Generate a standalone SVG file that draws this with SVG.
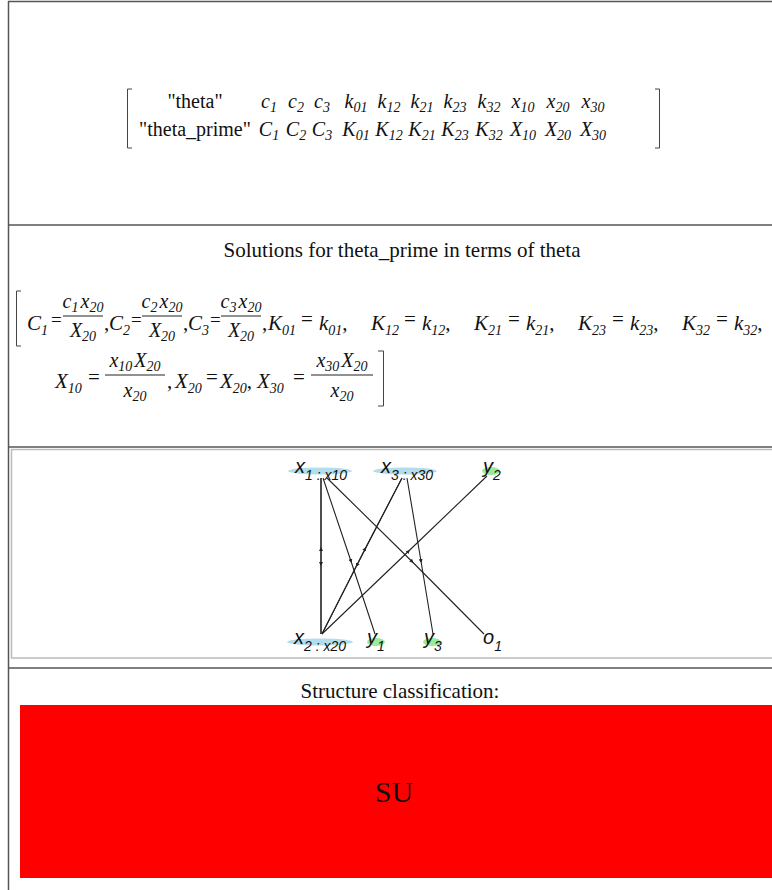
<svg xmlns="http://www.w3.org/2000/svg" width="772" height="890" viewBox="0 0 772 890">
<style>
.m{font-family:"Liberation Serif",serif;font-size:20px;fill:#111}
.i{font-style:italic}
.s{font-size:14px}
.e{font-family:"Liberation Serif",serif;font-size:21px;font-style:italic;fill:#111}
.f{font-size:20px}
.es{font-size:14px}
.u{font-style:normal}
.eq{font-size:19px}
.t{font-family:"Liberation Serif",serif;font-size:21px;fill:#111}
.g{font-family:"Liberation Sans",sans-serif;font-style:italic;font-size:20px;fill:#111}
.gs{font-size:14px}
.br{fill:none;stroke:#444;stroke-width:1}
.bar{stroke:#222;stroke-width:1}
.edge{fill:none;stroke:#222;stroke-width:1.1;marker-mid:url(#ah)}
.hb{fill:#a9d9ea;opacity:0.9}
.hg{fill:#8fe88f;opacity:0.9}
.frame{fill:none;stroke:#555;stroke-width:1.5}
</style>
<defs>
<marker id="ah" markerUnits="userSpaceOnUse" markerWidth="5" markerHeight="5" refX="4" refY="2" orient="auto">
<path d="M0,0 L4,2 L0,4 z" fill="#222"/>
</marker>
</defs>
<rect width="772" height="890" fill="#fff"/>
<g id="frame">
<line class="frame" x1="8.5" y1="1" x2="8.5" y2="890"/>
<line class="frame" x1="8" y1="1.5" x2="772" y2="1.5"/>
<line class="frame" x1="8" y1="225" x2="772" y2="225"/>
<line class="frame" x1="8" y1="447" x2="772" y2="447"/>
<line class="frame" x1="8" y1="668" x2="772" y2="668"/>
<rect x="11.5" y="449.5" width="770" height="208.5" fill="none" stroke="#bbb" stroke-width="1.5"/>
</g>
<g id="matrix">
<path class="br" d="M132,89 H127.5 V148 H132"/>
<path class="br" d="M655,89 H659.5 V148 H655"/>
<text class="m" x="195" y="108" text-anchor="middle">"theta"</text>
<text class="m" x="195" y="136" text-anchor="middle">"theta_prime"</text>
<text class="m i" x="269" y="108" text-anchor="middle">c<tspan class="s" dy="4">1</tspan></text>
<text class="m i" x="296" y="108" text-anchor="middle">c<tspan class="s" dy="4">2</tspan></text>
<text class="m i" x="322" y="108" text-anchor="middle">c<tspan class="s" dy="4">3</tspan></text>
<text class="m i" x="356" y="108" text-anchor="middle">k<tspan class="s" dy="4">01</tspan></text>
<text class="m i" x="389" y="108" text-anchor="middle">k<tspan class="s" dy="4">12</tspan></text>
<text class="m i" x="422" y="108" text-anchor="middle">k<tspan class="s" dy="4">21</tspan></text>
<text class="m i" x="455" y="108" text-anchor="middle">k<tspan class="s" dy="4">23</tspan></text>
<text class="m i" x="489" y="108" text-anchor="middle">k<tspan class="s" dy="4">32</tspan></text>
<text class="m i" x="523" y="108" text-anchor="middle">x<tspan class="s" dy="4">10</tspan></text>
<text class="m i" x="558" y="108" text-anchor="middle">x<tspan class="s" dy="4">20</tspan></text>
<text class="m i" x="593" y="108" text-anchor="middle">x<tspan class="s" dy="4">30</tspan></text>
<text class="m i" x="269" y="136" text-anchor="middle">C<tspan class="s" dy="4">1</tspan></text>
<text class="m i" x="296" y="136" text-anchor="middle">C<tspan class="s" dy="4">2</tspan></text>
<text class="m i" x="322" y="136" text-anchor="middle">C<tspan class="s" dy="4">3</tspan></text>
<text class="m i" x="356" y="136" text-anchor="middle">K<tspan class="s" dy="4">01</tspan></text>
<text class="m i" x="389" y="136" text-anchor="middle">K<tspan class="s" dy="4">12</tspan></text>
<text class="m i" x="422" y="136" text-anchor="middle">K<tspan class="s" dy="4">21</tspan></text>
<text class="m i" x="455" y="136" text-anchor="middle">K<tspan class="s" dy="4">23</tspan></text>
<text class="m i" x="489" y="136" text-anchor="middle">K<tspan class="s" dy="4">32</tspan></text>
<text class="m i" x="523" y="136" text-anchor="middle">X<tspan class="s" dy="4">10</tspan></text>
<text class="m i" x="558" y="136" text-anchor="middle">X<tspan class="s" dy="4">20</tspan></text>
<text class="m i" x="593" y="136" text-anchor="middle">X<tspan class="s" dy="4">30</tspan></text>
</g>
<g id="solutions">
<text class="t" x="402" y="257" text-anchor="middle">Solutions for theta_prime in terms of theta</text>
<path class="br" d="M21,291 H16.5 V346 H21"/>
<path class="br" d="M378,351 H383.5 V406 H378"/>
<!-- line 1 -->
<text class="e" x="27" y="330">C<tspan class="es" dy="5">1</tspan></text>
<text class="e u eq" x="51" y="326">=</text>
<line class="bar" x1="63" y1="316" x2="103" y2="316"/>
<text class="e f" x="83" y="308" text-anchor="middle">c<tspan class="es" dy="4">1</tspan><tspan dx="2" dy="-4">x</tspan><tspan class="es" dy="4">20</tspan></text>
<text class="e f" x="83" y="337" text-anchor="middle">X<tspan class="es" dy="4">20</tspan></text>
<text class="e u" x="104" y="330">,</text>
<text class="e" x="109" y="330">C<tspan class="es" dy="5">2</tspan></text>
<text class="e u eq" x="131" y="326">=</text>
<line class="bar" x1="142" y1="316" x2="182" y2="316"/>
<text class="e f" x="162" y="308" text-anchor="middle">c<tspan class="es" dy="4">2</tspan><tspan dx="2" dy="-4">x</tspan><tspan class="es" dy="4">20</tspan></text>
<text class="e f" x="162" y="337" text-anchor="middle">X<tspan class="es" dy="4">20</tspan></text>
<text class="e u" x="183" y="330">,</text>
<text class="e" x="188" y="330">C<tspan class="es" dy="5">3</tspan></text>
<text class="e u eq" x="210" y="326">=</text>
<line class="bar" x1="221" y1="316" x2="261" y2="316"/>
<text class="e f" x="241" y="308" text-anchor="middle">c<tspan class="es" dy="4">3</tspan><tspan dx="2" dy="-4">x</tspan><tspan class="es" dy="4">20</tspan></text>
<text class="e f" x="241" y="337" text-anchor="middle">X<tspan class="es" dy="4">20</tspan></text>
<text class="e u" x="262" y="330">,</text>
<text class="e" x="268" y="330">K<tspan class="es" dy="5">01</tspan></text>
<text class="e u" x="301" y="326">=</text>
<text class="e" x="319" y="330">k<tspan class="es" dy="5">01</tspan><tspan class="u" dy="-5">,</tspan></text>
<text class="e" x="371" y="330">K<tspan class="es" dy="5">12</tspan></text>
<text class="e u" x="404" y="326">=</text>
<text class="e" x="422" y="330">k<tspan class="es" dy="5">12</tspan><tspan class="u" dy="-5">,</tspan></text>
<text class="e" x="474" y="330">K<tspan class="es" dy="5">21</tspan></text>
<text class="e u" x="508" y="326">=</text>
<text class="e" x="526" y="330">k<tspan class="es" dy="5">21</tspan><tspan class="u" dy="-5">,</tspan></text>
<text class="e" x="578" y="330">K<tspan class="es" dy="5">23</tspan></text>
<text class="e u" x="612" y="326">=</text>
<text class="e" x="630" y="330">k<tspan class="es" dy="5">23</tspan><tspan class="u" dy="-5">,</tspan></text>
<text class="e" x="682" y="330">K<tspan class="es" dy="5">32</tspan></text>
<text class="e u" x="716" y="326">=</text>
<text class="e" x="734" y="330">k<tspan class="es" dy="5">32</tspan><tspan class="u" dy="-5">,</tspan></text>
<!-- line 2 -->
<text class="e" x="55" y="388">X<tspan class="es" dy="5">10</tspan></text>
<text class="e u" x="88" y="384">=</text>
<line class="bar" x1="105" y1="375" x2="165" y2="375"/>
<text class="e f" x="135" y="367" text-anchor="middle">x<tspan class="es" dy="4">10</tspan><tspan dx="2" dy="-4">X</tspan><tspan class="es" dy="4">20</tspan></text>
<text class="e f" x="135" y="397" text-anchor="middle">x<tspan class="es" dy="4">20</tspan></text>
<text class="e u" x="167" y="388">,</text>
<text class="e" x="175" y="388">X<tspan class="es" dy="5">20</tspan></text>
<text class="e u" x="206" y="384">=</text>
<text class="e" x="220" y="388">X<tspan class="es" dy="5">20</tspan><tspan class="u" dy="-5">,</tspan></text>
<text class="e" x="257" y="388">X<tspan class="es" dy="5">30</tspan></text>
<text class="e u" x="293" y="384">=</text>
<line class="bar" x1="311" y1="375" x2="373" y2="375"/>
<text class="e f" x="342" y="367" text-anchor="middle">x<tspan class="es" dy="4">30</tspan><tspan dx="2" dy="-4">X</tspan><tspan class="es" dy="4">20</tspan></text>
<text class="e f" x="342" y="397" text-anchor="middle">x<tspan class="es" dy="4">20</tspan></text>
</g>
<g id="connectors">
<path class="edge" d="M321,478 L321,566 L321,634"/>
<path class="edge" d="M321,634 L321,547 L321,478"/>
<path class="edge" d="M323,478 L351.6,563 L375,634"/>
<path class="edge" d="M327,478 L413.5,563 L484,634"/>
<path class="edge" d="M402,478 L356,567 L322,634"/>
<path class="edge" d="M322,634 L366,547 L402,478"/>
<path class="edge" d="M407,478 L421.3,563 L433,634"/>
<path class="edge" d="M322,634 L409.8,550 L487,476"/>
</g>
<g id="node-x1">
<ellipse class="hb" cx="320" cy="471" rx="32" ry="3.5"/>
<text class="g" x="295" y="473">x<tspan class="gs" dy="7">1 : x10</tspan></text>
</g>
<g id="node-x3">
<ellipse class="hb" cx="405" cy="471" rx="32" ry="3.5"/>
<text class="g" x="381" y="473">x<tspan class="gs" dy="7">3 : x30</tspan></text>
</g>
<g id="node-y2">
<ellipse class="hg" cx="491" cy="471" rx="9" ry="4"/>
<text class="g" x="483" y="473">y<tspan class="gs" dy="7">2</tspan></text>
</g>
<g id="node-x2">
<ellipse class="hb" cx="320" cy="642" rx="33" ry="3.5"/>
<text class="g" x="294" y="644">x<tspan class="gs" dy="7">2 : x20</tspan></text>
</g>
<g id="node-y1">
<ellipse class="hg" cx="376" cy="642" rx="9" ry="4"/>
<text class="g" x="367" y="644">y<tspan class="gs" dy="7">1</tspan></text>
</g>
<g id="node-y3">
<ellipse class="hg" cx="432" cy="642" rx="9" ry="4"/>
<text class="g" x="424" y="644">y<tspan class="gs" dy="7">3</tspan></text>
</g>
<g id="node-o1">
<text class="g" x="483" y="644">o<tspan class="gs" dy="7">1</tspan></text>
</g>
<g id="classification">
<text class="t" x="400" y="698" text-anchor="middle">Structure classification:</text>
<rect x="20" y="705" width="752" height="173" fill="#ff0000"/>
<text x="394" y="802" text-anchor="middle" font-family="Liberation Serif, serif" font-size="30" fill="#111">SU</text>
</g>
</svg>
